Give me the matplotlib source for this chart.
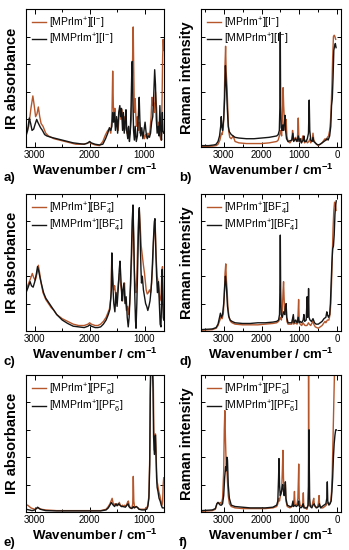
import matplotlib
matplotlib.use("Agg")
import matplotlib.pyplot as plt
from matplotlib.ticker import MultipleLocator

plt.rcParams["font.family"] = ["Liberation Sans", "DejaVu Sans"]
plt.rcParams["mathtext.fontset"] = "custom"
plt.rcParams["mathtext.rm"] = "Liberation Sans"
plt.rcParams["mathtext.it"] = "Liberation Sans:italic"
plt.rcParams["mathtext.bf"] = "Liberation Sans:bold"

RED = "#b5562b"
BLACK = "#151515"

# ---- a) IR, iodide ----
ir_i_red_x = [3160, 3110, 3070, 3035, 3010, 2985, 2960, 2935, 2910, 2885, 2850, 2800, 2750, 2650,
              2550, 2450, 2350, 2250, 2150, 2050, 2010, 1970, 1900, 1820, 1760, 1710, 1670, 1640,
              1615, 1595, 1580, 1568, 1555, 1540, 1520, 1500, 1480, 1460, 1445, 1430, 1410, 1390,
              1375, 1360, 1340, 1320, 1300, 1280, 1260, 1240, 1225, 1215, 1206, 1198, 1185, 1170,
              1150, 1130, 1110, 1095, 1080, 1060, 1040, 1020, 1000, 980, 960, 940, 920, 900, 880,
              865, 850, 835, 820, 800, 780, 760, 740, 720, 700, 690, 680, 670, 660, 650]
ir_i_red_y = [0.10, 0.15, 0.28, 0.37, 0.30, 0.22, 0.24, 0.29, 0.22, 0.17, 0.15, 0.10, 0.08, 0.06,
              0.05, 0.04, 0.03, 0.02, 0.02, 0.025, 0.035, 0.025, 0.015, 0.01, 0.04, 0.09, 0.12, 0.13,
              0.10, 0.20, 0.55, 0.30, 0.22, 0.28, 0.15, 0.20, 0.12, 0.26, 0.28, 0.20, 0.27, 0.16,
              0.22, 0.12, 0.18, 0.10, 0.14, 0.08, 0.12, 0.20, 0.45, 0.70, 0.87, 0.60, 0.25, 0.35,
              0.15, 0.22, 0.12, 0.18, 0.10, 0.12, 0.08, 0.10, 0.06, 0.09, 0.07, 0.10, 0.08, 0.12, 0.22,
              0.36, 0.30, 0.32, 0.25, 0.40, 0.28, 0.12, 0.18, 0.08, 0.05, 0.10, 0.35, 0.65, 0.78, 0.70]
ir_i_blk_x = [3160, 3130, 3100, 3075, 3050, 3020, 2990, 2965, 2945, 2920, 2895, 2860, 2820, 2780,
              2700, 2600, 2500, 2400, 2300, 2200, 2100, 2030, 2000, 1970, 1900, 1820, 1760, 1710,
              1670, 1640, 1615, 1595, 1580, 1565, 1550, 1530, 1510, 1490, 1470, 1450, 1435, 1420,
              1400, 1385, 1370, 1350, 1338, 1325, 1305, 1290, 1275, 1260, 1245, 1232, 1224, 1215,
              1200, 1185, 1170, 1150, 1130, 1110, 1097, 1085, 1070, 1050, 1030, 1010, 990, 970, 950,
              930, 910, 890, 870, 850, 830, 815, 800, 785, 770, 750, 735, 720, 705, 690, 675, 665, 650]
ir_i_blk_y = [0.08, 0.12, 0.21, 0.17, 0.12, 0.13, 0.17, 0.20, 0.18, 0.16, 0.14, 0.12, 0.09, 0.08,
              0.07, 0.06, 0.05, 0.04, 0.03, 0.025, 0.02, 0.03, 0.04, 0.03, 0.02, 0.015, 0.02, 0.06,
              0.10, 0.14, 0.12, 0.15, 0.25, 0.18, 0.25, 0.12, 0.22, 0.10, 0.25, 0.30, 0.22, 0.28,
              0.12, 0.25, 0.10, 0.20, 0.27, 0.12, 0.06, 0.15, 0.04, 0.10, 0.30, 0.55, 0.62, 0.40,
              0.12, 0.05, 0.15, 0.04, 0.08, 0.25, 0.36, 0.20, 0.08, 0.14, 0.06, 0.12, 0.18, 0.10, 0.06,
              0.08, 0.07, 0.10, 0.18, 0.22, 0.40, 0.56, 0.45, 0.20, 0.10, 0.15, 0.08, 0.30, 0.12, 0.05,
              0.25, 0.12, 0.10]

# ---- b) Raman, iodide ----
ra_i_red_x = [3600, 3400, 3300, 3200, 3150, 3100, 3060, 3040, 3010, 2985, 2965, 2950, 2935, 2915,
              2895, 2870, 2840, 2800, 2750, 2700, 2600, 2400, 2200, 2000, 1800, 1700, 1600, 1560,
              1530, 1510, 1490, 1470, 1450, 1430, 1415, 1400, 1385, 1370, 1350, 1330, 1300, 1250,
              1200, 1180, 1165, 1130, 1100, 1080, 1050, 1030, 1015, 990, 960, 940, 910, 890, 860,
              820, 790, 750, 720, 700, 660, 640, 620, 580, 550, 500, 450, 400, 350, 320, 290, 260,
              230, 200, 180, 160, 140, 120, 100, 80, 60, 40]
ra_i_red_y = [0.005, 0.005, 0.006, 0.01, 0.02, 0.05, 0.10, 0.09, 0.14, 0.35, 0.60, 0.73, 0.55, 0.45,
              0.30, 0.12, 0.07, 0.06, 0.08, 0.04, 0.03, 0.025, 0.025, 0.025, 0.03, 0.035, 0.04, 0.05,
              0.08, 0.10, 0.12, 0.08, 0.20, 0.43, 0.30, 0.22, 0.15, 0.12, 0.20, 0.08, 0.04, 0.03,
              0.05, 0.12, 0.05, 0.06, 0.07, 0.04, 0.06, 0.21, 0.08, 0.04, 0.06, 0.03, 0.08, 0.05, 0.03,
              0.05, 0.03, 0.04, 0.06, 0.03, 0.05, 0.10, 0.05, 0.03, 0.02, 0.01, 0.02, 0.03, 0.05, 0.06,
              0.05, 0.07, 0.08, 0.12, 0.18, 0.28, 0.45, 0.65, 0.80, 0.81, 0.80, 0.78]
ra_i_blk_x = [3600, 3400, 3250, 3200, 3150, 3110, 3080, 3065, 3050, 3030, 3000, 2975, 2955, 2940,
              2925, 2905, 2880, 2850, 2800, 2750, 2700, 2600, 2400, 2200, 2000, 1800, 1700, 1600,
              1560, 1530, 1515, 1505, 1495, 1480, 1460, 1440, 1420, 1400, 1380, 1365, 1340, 1300,
              1200, 1170, 1150, 1100, 1060, 1030, 1010, 980, 950, 900, 880, 860, 820, 790, 760, 740,
              725, 700, 660, 640, 620, 580, 540, 500, 450, 400, 350, 300, 270, 240, 200, 170, 150,
              130, 110, 90, 70, 50, 30]
ra_i_blk_y = [0.01, 0.01, 0.015, 0.02, 0.04, 0.08, 0.15, 0.22, 0.15, 0.12, 0.20, 0.35, 0.59, 0.50,
              0.42, 0.28, 0.15, 0.11, 0.09, 0.08, 0.07, 0.065, 0.06, 0.06, 0.065, 0.07, 0.075, 0.08,
              0.09, 0.12, 0.30, 0.83, 0.30, 0.14, 0.12, 0.16, 0.12, 0.18, 0.23, 0.12, 0.06, 0.04,
              0.05, 0.10, 0.04, 0.06, 0.04, 0.08, 0.04, 0.06, 0.03, 0.05, 0.08, 0.04, 0.04, 0.06, 0.10,
              0.34, 0.12, 0.05, 0.04, 0.07, 0.04, 0.03, 0.02, 0.015, 0.02, 0.03, 0.04, 0.05, 0.06,
              0.05, 0.08, 0.15, 0.30, 0.35, 0.50, 0.70, 0.73, 0.75, 0.72]

# ---- c) IR, tetrafluoroborate ----
ir_bf4_red_x = [3160, 3120, 3080, 3045, 3020, 2990, 2960, 2935, 2910, 2880, 2850, 2800, 2750, 2700,
                2650, 2600, 2500, 2400, 2300, 2200, 2100, 2030, 2000, 1970, 1900, 1850, 1800, 1750,
                1700, 1670, 1640, 1610, 1597, 1580, 1560, 1545, 1530, 1510, 1490, 1470, 1455, 1440,
                1420, 1400, 1380, 1365, 1350, 1330, 1310, 1290, 1270, 1250, 1230, 1212, 1200, 1185,
                1170, 1157, 1140, 1120, 1105, 1095, 1080, 1060, 1040, 1020, 1000, 985, 970, 950, 930,
                910, 890, 870, 850, 830, 815, 805, 790, 770, 750, 735, 720, 700, 685, 673, 660, 650]
ir_bf4_red_y = [0.30, 0.34, 0.38, 0.42, 0.39, 0.37, 0.42, 0.48, 0.42, 0.34, 0.28, 0.23, 0.20, 0.17,
                0.15, 0.12, 0.09, 0.07, 0.05, 0.04, 0.04, 0.05, 0.06, 0.05, 0.04, 0.04, 0.05, 0.07,
                0.10, 0.13, 0.16, 0.25, 0.55, 0.40, 0.30, 0.33, 0.28, 0.22, 0.30, 0.38, 0.42, 0.35,
                0.30, 0.22, 0.30, 0.35, 0.22, 0.15, 0.18, 0.12, 0.20, 0.35, 0.60, 0.90, 0.70, 0.45,
                0.30, 0.28, 0.40, 0.70, 0.85, 0.88, 0.78, 0.62, 0.55, 0.48, 0.42, 0.36, 0.30, 0.27, 0.28,
                0.30, 0.28, 0.35, 0.50, 0.70, 0.80, 0.78, 0.55, 0.40, 0.35, 0.30, 0.22, 0.25, 0.40,
                0.47, 0.20, 0.12]
ir_bf4_blk_x = [3160, 3120, 3085, 3060, 3030, 3000, 2970, 2950, 2930, 2900, 2870, 2840, 2800, 2750,
                2700, 2650, 2600, 2500, 2400, 2300, 2200, 2100, 2030, 2000, 1970, 1900, 1850, 1800,
                1750, 1700, 1660, 1630, 1605, 1595, 1580, 1560, 1540, 1520, 1500, 1480, 1460, 1447,
                1430, 1410, 1395, 1375, 1355, 1335, 1315, 1297, 1280, 1260, 1240, 1225, 1210, 1195,
                1180, 1165, 1155, 1140, 1120, 1105, 1095, 1080, 1065, 1055, 1040, 1020, 1000, 980, 960,
                940, 920, 900, 880, 860, 840, 820, 810, 795, 780, 765, 745, 730, 715, 700, 690, 678,
                668, 658, 650]
ir_bf4_blk_y = [0.28, 0.32, 0.36, 0.33, 0.32, 0.36, 0.42, 0.47, 0.44, 0.38, 0.33, 0.28, 0.24, 0.21,
                0.18, 0.15, 0.12, 0.08, 0.055, 0.035, 0.03, 0.025, 0.035, 0.045, 0.035, 0.025, 0.025,
                0.03, 0.05, 0.08, 0.12, 0.16, 0.30, 0.57, 0.35, 0.20, 0.14, 0.28, 0.18, 0.30, 0.45,
                0.51, 0.38, 0.22, 0.30, 0.35, 0.20, 0.25, 0.10, 0.03, 0.10, 0.30, 0.55, 0.80, 0.92,
                0.65, 0.30, 0.08, 0.02, 0.20, 0.55, 0.85, 0.90, 0.70, 0.45, 0.35, 0.40, 0.30, 0.25,
                0.20, 0.18, 0.15, 0.18, 0.22, 0.30, 0.45, 0.65, 0.80, 0.82, 0.60, 0.40, 0.28, 0.36,
                0.20, 0.05, 0.03, 0.20, 0.45, 0.25, 0.10, 0.08]

# ---- d) Raman, tetrafluoroborate ----
ra_bf4_red_x = [3600, 3300, 3200, 3150, 3100, 3070, 3040, 3010, 2985, 2965, 2945, 2930, 2910, 2890,
                2860, 2820, 2780, 2700, 2500, 2300, 2100, 1900, 1700, 1600, 1550, 1520, 1500, 1475,
                1450, 1430, 1418, 1405, 1390, 1370, 1350, 1330, 1300, 1200, 1170, 1150, 1110, 1060,
                1035, 1020, 1005, 980, 940, 900, 880, 850, 800, 760, 740, 700, 650, 620, 580, 500, 450,
                400, 350, 320, 300, 260, 220, 190, 170, 150, 130, 110, 90, 70, 50, 30]
ra_bf4_red_y = [0.005, 0.01, 0.02, 0.04, 0.08, 0.10, 0.09, 0.13, 0.25, 0.42, 0.49, 0.38, 0.30, 0.18,
                0.10, 0.07, 0.06, 0.05, 0.045, 0.045, 0.045, 0.05, 0.055, 0.06, 0.07, 0.09, 0.10, 0.08,
                0.15, 0.30, 0.36, 0.25, 0.15, 0.12, 0.18, 0.07, 0.05, 0.05, 0.10, 0.05, 0.06, 0.05,
                0.12, 0.23, 0.08, 0.05, 0.04, 0.06, 0.05, 0.04, 0.04, 0.06, 0.05, 0.04, 0.07, 0.05,
                0.03, 0.02, 0.03, 0.04, 0.06, 0.07, 0.06, 0.08, 0.08, 0.12, 0.20, 0.35, 0.55, 0.75,
                0.88, 0.94, 0.93, 0.88]
ra_bf4_blk_x = [3600, 3300, 3200, 3150, 3110, 3087, 3060, 3030, 3000, 2975, 2955, 2940, 2920, 2900,
                2870, 2830, 2780, 2700, 2500, 2300, 2100, 1900, 1700, 1600, 1550, 1525, 1512, 1504,
                1495, 1480, 1450, 1420, 1390, 1370, 1350, 1335, 1300, 1200, 1160, 1140, 1100, 1060,
                1030, 1010, 980, 940, 900, 880, 860, 820, 795, 785, 770, 757, 745, 720, 680, 640, 600,
                560, 500, 450, 400, 350, 300, 275, 260, 230, 200, 180, 160, 140, 120, 100, 80, 60, 40,
                25]
ra_bf4_blk_y = [0.01, 0.015, 0.025, 0.05, 0.10, 0.13, 0.10, 0.12, 0.20, 0.32, 0.40, 0.36, 0.28, 0.18,
                0.11, 0.08, 0.07, 0.06, 0.055, 0.055, 0.06, 0.06, 0.065, 0.07, 0.08, 0.12, 0.35, 0.70,
                0.30, 0.12, 0.10, 0.14, 0.12, 0.18, 0.20, 0.10, 0.06, 0.06, 0.12, 0.06, 0.08, 0.06,
                0.10, 0.06, 0.07, 0.06, 0.08, 0.12, 0.07, 0.08, 0.25, 0.10, 0.12, 0.31, 0.10, 0.08,
                0.07, 0.09, 0.06, 0.05, 0.05, 0.06, 0.07, 0.09, 0.10, 0.14, 0.12, 0.10, 0.12, 0.20,
                0.35, 0.50, 0.60, 0.62, 0.70, 0.85, 0.92, 0.95]

# ---- e) IR, hexafluorophosphate ----
ir_pf6_red_x = [3160, 3130, 3100, 3070, 3040, 3000, 2970, 2950, 2920, 2880, 2800, 2600, 2400, 2200,
                2000, 1800, 1700, 1660, 1630, 1610, 1590, 1575, 1560, 1540, 1520, 1500, 1480, 1460,
                1440, 1420, 1400, 1380, 1360, 1340, 1310, 1295, 1280, 1260, 1230, 1215, 1205, 1195,
                1180, 1150, 1120, 1100, 1050, 1000, 960, 940, 920, 905, 895, 885, 870, 855, 840, 830,
                820, 810, 800, 790, 780, 770, 760, 740, 720, 700, 680, 670, 660, 650]
ir_pf6_red_y = [0.05, 0.05, 0.04, 0.03, 0.025, 0.02, 0.025, 0.03, 0.025, 0.02, 0.015, 0.01, 0.01, 0.01,
                0.01, 0.01, 0.02, 0.04, 0.06, 0.08, 0.10, 0.07, 0.05, 0.06, 0.05, 0.06, 0.05, 0.07,
                0.05, 0.04, 0.05, 0.04, 0.05, 0.04, 0.07, 0.08, 0.05, 0.03, 0.03, 0.06, 0.26, 0.08,
                0.03, 0.04, 0.03, 0.02, 0.02, 0.02, 0.03, 0.05, 0.12, 0.40, 0.90, 1.10, 1.10, 1.05,
                0.95, 0.60, 0.45, 0.55, 0.57, 0.45, 0.30, 0.22, 0.20, 0.15, 0.12, 0.08, 0.05, 0.08,
                0.20, 0.25]
ir_pf6_blk_x = [3160, 3100, 3050, 3000, 2970, 2950, 2930, 2900, 2850, 2800, 2600, 2400, 2200, 2000,
                1800, 1700, 1660, 1630, 1605, 1590, 1570, 1545, 1520, 1500, 1470, 1450, 1420, 1390,
                1350, 1320, 1300, 1285, 1260, 1230, 1205, 1190, 1150, 1120, 1100, 1050, 1000, 960, 940,
                920, 905, 895, 885, 870, 855, 845, 835, 820, 808, 800, 790, 780, 770, 755, 735, 715,
                695, 675, 660, 650]
ir_pf6_blk_y = [0.02, 0.015, 0.01, 0.015, 0.025, 0.035, 0.03, 0.02, 0.015, 0.01, 0.008, 0.008, 0.008,
                0.008, 0.008, 0.015, 0.03, 0.05, 0.07, 0.06, 0.05, 0.04, 0.06, 0.045, 0.06, 0.05,
                0.04, 0.04, 0.035, 0.05, 0.06, 0.04, 0.03, 0.025, 0.04, 0.03, 0.04, 0.03, 0.02, 0.015,
                0.015, 0.02, 0.04, 0.10, 0.35, 0.85, 1.10, 1.10, 1.05, 0.90, 0.55, 0.42, 0.55, 0.56,
                0.40, 0.25, 0.18, 0.15, 0.10, 0.08, 0.05, 0.03, 0.03, 0.03]

# ---- f) Raman, hexafluorophosphate ----
ra_pf6_red_x = [3600, 3300, 3220, 3180, 3150, 3120, 3090, 3060, 3030, 3000, 2985, 2970, 2955, 2935,
                2915, 2900, 2880, 2850, 2800, 2700, 2500, 2300, 2100, 1900, 1700, 1600, 1570, 1545,
                1525, 1500, 1470, 1450, 1435, 1420, 1400, 1385, 1370, 1355, 1320, 1250, 1200, 1150,
                1130, 1115, 1090, 1060, 1040, 1025, 1017, 1005, 980, 940, 910, 896, 885, 850, 800, 770,
                760, 757, 752, 740, 700, 660, 640, 620, 605, 560, 520, 500, 480, 465, 420, 380, 330,
                290, 260, 230, 200, 170, 150, 130, 110, 90, 70, 50, 30]
ra_pf6_red_y = [0.005, 0.01, 0.02, 0.06, 0.07, 0.06, 0.07, 0.06, 0.10, 0.30, 0.60, 0.74, 0.55, 0.35,
                0.30, 0.22, 0.12, 0.06, 0.04, 0.03, 0.025, 0.025, 0.025, 0.025, 0.03, 0.04, 0.06,
                0.10, 0.08, 0.12, 0.15, 0.30, 0.45, 0.25, 0.12, 0.15, 0.20, 0.08, 0.04, 0.03, 0.04,
                0.06, 0.15, 0.05, 0.05, 0.06, 0.10, 0.25, 0.35, 0.10, 0.05, 0.04, 0.06, 0.14, 0.05,
                0.03, 0.02, 0.05, 0.40, 1.10, 0.40, 0.05, 0.04, 0.05, 0.08, 0.10, 0.05, 0.03, 0.04,
                0.06, 0.12, 0.05, 0.03, 0.03, 0.04, 0.05, 0.07, 0.06, 0.06, 0.08, 0.15, 0.30, 0.55,
                0.80, 1.05, 1.10, 1.10]
ra_pf6_blk_x = [3600, 3300, 3220, 3180, 3150, 3120, 3090, 3060, 3030, 3000, 2975, 2950, 2935, 2915,
                2900, 2880, 2850, 2800, 2700, 2500, 2300, 2100, 1900, 1700, 1600, 1570, 1550, 1539,
                1525, 1505, 1480, 1455, 1440, 1420, 1400, 1380, 1370, 1355, 1320, 1250, 1200, 1170,
                1155, 1120, 1080, 1040, 1020, 1000, 960, 920, 900, 880, 840, 800, 770, 752, 745, 738,
                728, 710, 670, 640, 610, 580, 540, 490, 470, 440, 400, 350, 300, 275, 262, 250, 220,
                190, 160, 140, 120, 100, 80, 60, 40, 25]
ra_pf6_blk_y = [0.01, 0.015, 0.025, 0.06, 0.07, 0.06, 0.05, 0.05, 0.06, 0.12, 0.25, 0.33, 0.30, 0.40,
                0.38, 0.20, 0.10, 0.05, 0.04, 0.035, 0.03, 0.03, 0.03, 0.035, 0.05, 0.08, 0.25, 0.39,
                0.20, 0.12, 0.14, 0.18, 0.20, 0.15, 0.12, 0.18, 0.22, 0.10, 0.05, 0.04, 0.04, 0.08,
                0.04, 0.05, 0.04, 0.05, 0.08, 0.04, 0.03, 0.04, 0.06, 0.03, 0.03, 0.03, 0.05, 0.20,
                0.60, 0.33, 0.10, 0.04, 0.03, 0.05, 0.06, 0.04, 0.03, 0.04, 0.06, 0.03, 0.04, 0.05,
                0.06, 0.10, 0.22, 0.08, 0.05, 0.06, 0.08, 0.15, 0.25, 0.40, 0.50, 0.56, 0.60, 0.60]

labels_i = [r"[MPrIm$^{+}$][I$^{-}$]", r"[MMPrIm$^{+}$][I$^{-}$]"]
labels_bf4 = [r"[MPrIm$^{+}$][BF$_{4}^{-}$]", r"[MMPrIm$^{+}$][BF$_{4}^{-}$]"]
labels_pf6 = [r"[MPrIm$^{+}$][PF$_{6}^{-}$]", r"[MMPrIm$^{+}$][PF$_{6}^{-}$]"]

W, H = 349, 550
fig = plt.figure(figsize=(W / 100, H / 100), dpi=100)


def make_axes(x0, x1, y0, y1):
    # pixel box -> figure fraction
    return fig.add_axes([x0 / W, (H - y1) / H, (x1 - x0) / W, (y1 - y0) / H])


def style(ax, ir, labels, red, blk):
    ax.plot(red[0], red[1], color=RED, lw=1.0, label=labels[0])
    ax.plot(blk[0], blk[1], color=BLACK, lw=1.0, label=labels[1])
    if ir:
        ax.set_xlim(3160, 645)
        ax.set_ylabel("IR absorbance", fontsize=10.5, fontweight="bold", labelpad=3)
    else:
        ax.set_xlim(3600, -100)
        ax.set_ylabel("Raman intensity", fontsize=10.5, fontweight="bold", labelpad=3)
    ax.set_ylim(0, 1)
    ax.xaxis.set_major_locator(MultipleLocator(1000))
    ax.xaxis.set_minor_locator(MultipleLocator(500))
    ax.yaxis.set_major_locator(MultipleLocator(0.2))
    ax.set_yticklabels([])
    ax.tick_params(which="both", direction="in", top=True, right=True, width=0.7)
    ax.tick_params(which="major", length=3.5, labelsize=7, pad=2)
    ax.tick_params(which="minor", length=2.5)
    ax.tick_params(axis="y", length=3)
    for s in ax.spines.values():
        s.set_linewidth(0.8)
    ax.set_xlabel(r"Wavenumber / cm$^{\mathbf{-1}}$", fontsize=9.5, fontweight="bold", labelpad=2)
    ax.legend(loc="upper left", frameon=False, fontsize=7.5, handlelength=1.3,
              handletextpad=0.35, borderaxespad=0.3, labelspacing=0.1, borderpad=0.3)
    return ax


rows = [(9, 147), (194, 331), (375, 512)]
panels = [
    (True, "a)", labels_i, (ir_i_red_x, ir_i_red_y), (ir_i_blk_x, ir_i_blk_y)),
    (False, "b)", labels_i, (ra_i_red_x, ra_i_red_y), (ra_i_blk_x, ra_i_blk_y)),
    (True, "c)", labels_bf4, (ir_bf4_red_x, ir_bf4_red_y), (ir_bf4_blk_x, ir_bf4_blk_y)),
    (False, "d)", labels_bf4, (ra_bf4_red_x, ra_bf4_red_y), (ra_bf4_blk_x, ra_bf4_blk_y)),
    (True, "e)", labels_pf6, (ir_pf6_red_x, ir_pf6_red_y), (ir_pf6_blk_x, ir_pf6_blk_y)),
    (False, "f)", labels_pf6, (ra_pf6_red_x, ra_pf6_red_y), (ra_pf6_blk_x, ra_pf6_blk_y)),
]

for i, (ir, letter, labels, red, blk) in enumerate(panels):
    y0, y1 = rows[i // 2]
    if ir:
        ax = make_axes(26, 164, y0, y1)
        lx = 4
    else:
        ax = make_axes(201, 341, y0, y1)
        lx = 179
    style(ax, ir, labels, red, blk)
    fig.text(lx / W, (H - (y1 + 31)) / H, letter, fontsize=9.5, fontweight="bold",
             ha="left", va="center")

fig.savefig("out.png", dpi=100)
